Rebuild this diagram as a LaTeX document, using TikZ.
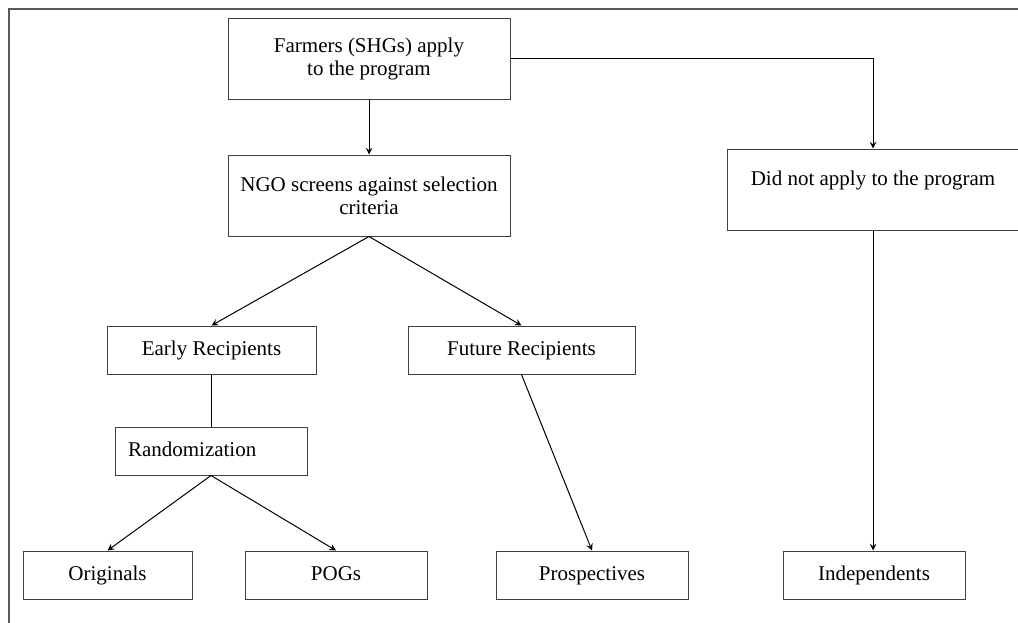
\documentclass[tikz,border=0pt]{standalone}
\usepackage{fontspec}
\setmainfont{Liberation Serif}
\usepackage{tikz}
\usetikzlibrary{arrows}
\tikzstyle{box} = [rectangle, minimum height=24pt, text centered, align=center, inner sep=0pt, text height=7.5pt, text depth=2.5pt, draw=black!75, line width=0.5pt, font=\fontsize{10.5}{11.5}\selectfont]
\tikzstyle{bigbox} = [box, minimum width=141pt, minimum height=40.5pt, text height={}, text depth={}]
\tikzstyle{arrow} = [line width=0.5pt,->,>=stealth]
\tikzstyle{link} = [line width=0.5pt]
\tikzstyle{frame} = [line width=0.8pt, draw=black!65]

\begin{document}
\begin{tikzpicture}[x=0.5pt, y=-0.5pt, node distance=68.5pt]
\useasboundingbox (0,0) rectangle (1018,622);
\clip (0,0) rectangle (1018,622);
\fill[white] (0,0) rectangle (1018,622);
\draw[frame] (1030,9) -- (9,9) -- (9,640);

% Nodes (no \\ inside single-line node text)
\node (apply) [bigbox] at (369,58.5) {Farmers (SHGs) apply\\to the program};
\node (screen) [bigbox, below of=apply] {NGO screens against selection\\criteria};
\node (notapply) [bigbox, minimum width=146pt] at (873,189.5) {Did not apply to the program\\\mbox{}};
\node (early) [box, minimum width=104.5pt] at (211.5,350) {Early Recipients};
\node (future) [box, minimum width=113.5pt] at (521.5,350) {Future Recipients};
\node (random) [box, text width=83pt, inner xsep=6.5pt, align=left] at (211,451) {Randomization};
\node (orig) [box, minimum width=84.5pt] at (107.5,575) {Originals};
\node (pogs) [box, minimum width=91pt] at (336,575) {POGs};
\node (prosp) [box, minimum width=96pt] at (592,575) {Prospectives};
\node (indep) [box, minimum width=91pt] at (874,575) {Independents};

% Arrows
\draw [arrow] (apply) -- (screen);
\draw [arrow] (apply.east) -| (notapply.north);
\draw [arrow] (screen.south) -- (early.north);
\draw [arrow] (screen.south) -- (future.north);
\draw [link] (early.south) -- (early.south |- random.north);
\draw [arrow] (random.south) -- (orig.north);
\draw [arrow] (random.south) -- (pogs.north);
\draw [arrow] (future.south) -- (prosp.north);
\draw [arrow] (notapply.south) -- (notapply.south |- indep.north);

\end{tikzpicture}
\end{document}
